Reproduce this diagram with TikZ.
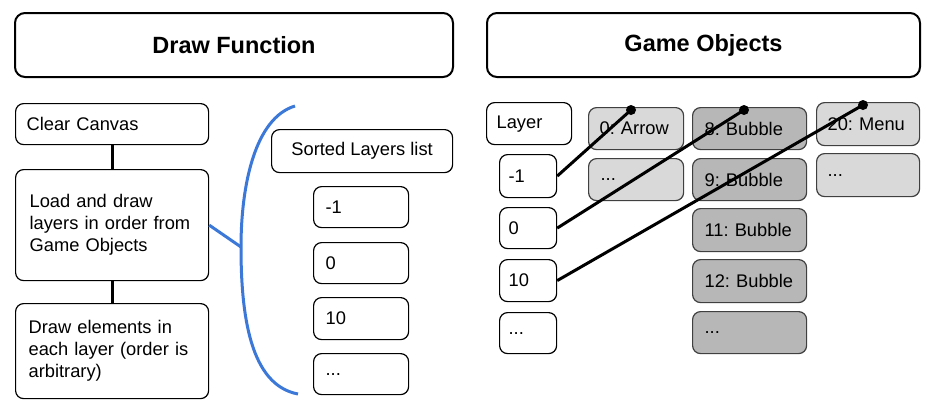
\documentclass[tikz,border=0pt]{standalone}
\usepackage{fontspec}
\setmainfont{Liberation Sans}
\frenchspacing
\definecolor{lightg}{HTML}{D9D9D9}
\definecolor{darkg}{HTML}{B7B7B7}
\definecolor{bracketblue}{HTML}{3C78D8}
\begin{document}
\begin{tikzpicture}[x=1bp,y=-1bp,
  headbox/.style={draw, line width=2bp, rounded corners=10bp, anchor=north west, inner sep=0pt,
    font=\fontsize{23.5bp}{26bp}\selectfont\bfseries},
  box/.style={draw, line width=1.2bp, rounded corners=8bp, anchor=north west, inner sep=0pt,
    font=\fontsize{18.3bp}{22bp}\selectfont},
  lbox/.style={box, align=left},
  lightbox/.style={lbox, fill=lightg, draw=black!75},
  darkbox/.style={lbox, fill=darkg, draw=black!75},
  link/.style={line width=3bp, black},
  dot/.style={circle, fill=black, inner sep=0pt, minimum size=10bp},
]
\useasboundingbox (0,0) rectangle (934,410);

% headers
\node[headbox, minimum width=438bp, minimum height=64bp] (hdf) at (14,12) {Draw Function};
\node[headbox, minimum width=433bp, minimum height=64bp] (hgo) at (486,12) {Game Objects};

% left flow
\node[lbox, minimum height=41bp, text width=193bp] (clear) at (15,103) {\hspace*{11bp}Clear Canvas};
\node[lbox, minimum height=111bp, text width=193bp] (load) at (15,169) {\parbox[c]{193bp}{\raggedright\hspace*{14bp}Load and draw\\\hspace*{14bp}layers in order from\\\hspace*{14bp}Game Objects}};
\node[lbox, minimum height=95bp, text width=193bp] (drawel) at (15,303) {\parbox[c]{193bp}{\raggedright\hspace*{13bp}Draw elements in\\\hspace*{13bp}each layer (order is\\\hspace*{13bp}arbitrary)}};
\draw[link] (clear.south) -- (load.north);
\draw[link] (load.south) -- (drawel.north);

% sorted layers list
\node[box, minimum width=181bp, minimum height=43bp] (sorted) at (271,129) {Sorted Layers list};
\node[lbox, minimum height=41bp, text width=95bp] (s1) at (313,186) {\hspace*{12bp}-1};
\node[lbox, minimum height=41bp, text width=95bp] (s2) at (313,242) {\hspace*{12bp}0};
\node[lbox, minimum height=42bp, text width=95bp] (s3) at (313,297) {\hspace*{12bp}10};
\node[lbox, minimum height=41bp, text width=95bp] (s4) at (313,353) {\hspace*{12bp}...};

% blue bracket
\coordinate (btop) at (295,106);
\coordinate (bmid) at (241,247);
\coordinate (bbot) at (298,394);
\draw[bracketblue, line width=3bp] (btop) .. controls (255,118) and (241,185) .. (bmid)
   .. controls (241,315) and (250,385) .. (bbot);
\draw[bracketblue, line width=3bp] (load.east) -- (bmid);

% game objects: layers
\node[lbox, minimum height=42bp, text width=85bp] (layer) at (486,102) {\hspace*{10bp}Layer};
\node[lbox, minimum height=43bp, text width=57bp] (l1) at (499,154) {\hspace*{9bp}-1};
\node[lbox, minimum height=41bp, text width=57bp] (l2) at (499,207) {\hspace*{9bp}0};
\node[lbox, minimum height=42bp, text width=57bp] (l3) at (499,259) {\hspace*{9bp}10};
\node[lbox, minimum height=41bp, text width=57bp] (l4) at (499,312) {\hspace*{9bp}...};

% object columns
\node[lightbox, minimum height=42bp, text width=95bp] (arrow) at (588,107) {\hspace*{11bp}0: Arrow};
\node[lightbox, minimum height=42bp, text width=95bp] (arrowd) at (588,158) {\hspace*{12bp}...};

\node[darkbox, minimum height=42bp, text width=114bp] (b8) at (692,107) {\hspace*{12bp}8: Bubble};
\node[darkbox, minimum height=42bp, text width=114bp] (b9) at (692,158) {\hspace*{12bp}9: Bubble};
\node[darkbox, minimum height=43bp, text width=114bp] (b11) at (692,208) {\hspace*{12bp}11: Bubble};
\node[darkbox, minimum height=43bp, text width=114bp] (b12) at (692,259) {\hspace*{12bp}12: Bubble};
\node[darkbox, minimum height=42bp, text width=114bp] (bd) at (692,311) {\hspace*{12bp}...};

\node[lightbox, minimum height=43bp, text width=103bp] (menu) at (816,102) {\hspace*{11bp}20: Menu};
\node[lightbox, minimum height=43bp, text width=103bp] (menud) at (816,153) {\hspace*{11bp}...};

% links
\node[dot] (d1) at (631,110) {};
\node[dot] (d2) at (744,110) {};
\node[dot] (d3) at (863,105) {};
\draw[link] (l1.east) -- (d1.center);
\draw[link] (l2.east) -- (d2.center);
\draw[link] (l3.east) -- (d3.center);
\end{tikzpicture}
\end{document}
